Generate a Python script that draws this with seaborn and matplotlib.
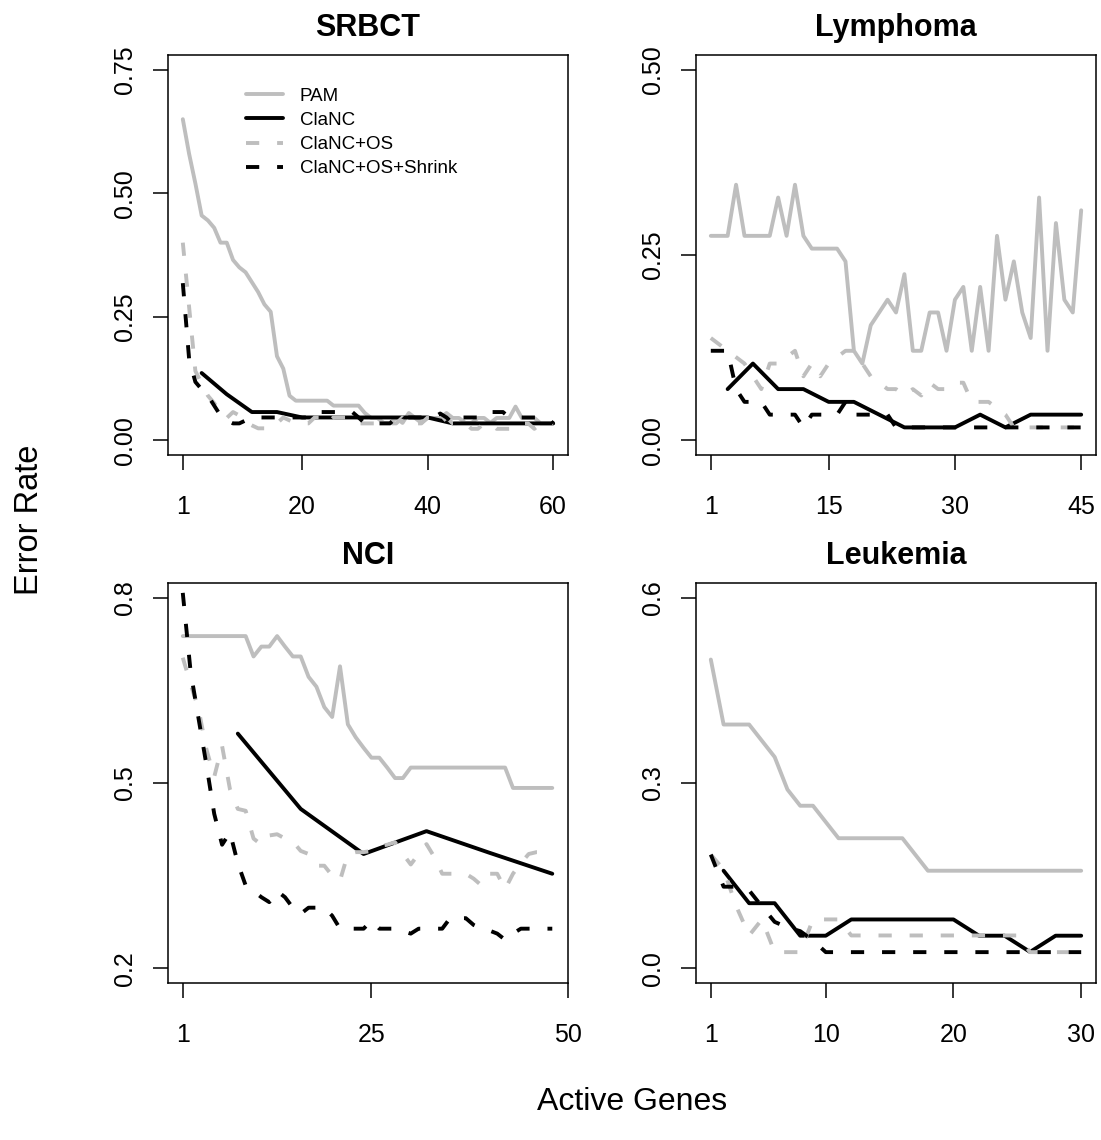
import numpy as np
import pandas as pd
import seaborn as sns
import matplotlib.pyplot as plt

# ---- data ----
# SRBCT
srbct_x = list(range(1, 61))
srbct_clanc_x = list(range(4, 61, 4))
srbct_pam = [0.65, 0.58, 0.52, 0.455, 0.445, 0.43, 0.40, 0.40, 0.365, 0.35,
             0.34, 0.32, 0.30, 0.275, 0.26, 0.17, 0.145, 0.09, 0.08, 0.08,
             0.08, 0.08, 0.08, 0.08, 0.07, 0.07, 0.07, 0.07, 0.07, 0.055,
             0.045, 0.045, 0.035, 0.035, 0.045, 0.035, 0.055, 0.045, 0.035, 0.045,
             0.045, 0.045, 0.055, 0.045, 0.045, 0.035, 0.035, 0.045, 0.045, 0.035,
             0.045, 0.045, 0.045, 0.068, 0.045, 0.045, 0.045, 0.034, 0.034, 0.034]
srbct_clanc = [0.136, 0.093, 0.057, 0.057, 0.046, 0.046, 0.046, 0.046, 0.046, 0.046,
               0.034, 0.034, 0.034, 0.034, 0.034]
srbct_os = [0.40, 0.27, 0.14, 0.115, 0.09, 0.075, 0.055, 0.045, 0.057, 0.05,
            0.037, 0.03, 0.024, 0.024, 0.024, 0.034, 0.046, 0.04, 0.034, 0.034,
            0.034, 0.046, 0.046, 0.034, 0.046, 0.046, 0.046, 0.046, 0.034, 0.034,
            0.034, 0.034, 0.034, 0.034, 0.034, 0.046, 0.034, 0.034, 0.034, 0.046,
            0.046, 0.034, 0.046, 0.034, 0.034, 0.034, 0.023, 0.023, 0.034, 0.034,
            0.023, 0.023, 0.023, 0.034, 0.034, 0.034, 0.023, 0.034, 0.034, 0.034]
srbct_shrink = [0.318, 0.165, 0.118, 0.103, 0.09, 0.07, 0.05, 0.04, 0.034, 0.034,
                0.04, 0.046, 0.046, 0.046, 0.046, 0.046, 0.046, 0.046, 0.046, 0.046,
                0.046, 0.057, 0.057, 0.057, 0.057, 0.057, 0.057, 0.057, 0.046, 0.034,
                0.034, 0.034, 0.034, 0.034, 0.046, 0.046, 0.046, 0.046, 0.046, 0.046,
                0.046, 0.054, 0.046, 0.034, 0.046, 0.046, 0.046, 0.046, 0.046, 0.057,
                0.057, 0.057, 0.046, 0.046, 0.046, 0.046, 0.046, 0.046, 0.046, 0.034]

# Lymphoma (errors out of 58)
lymph_x = list(range(1, 46))
lymph_clanc_x = list(range(3, 46, 3))
lymph_pam = [16, 16, 16, 20, 16, 16, 16, 16, 19, 16,
             20, 16, 15, 15, 15, 15, 14, 7, 6, 9,
             10, 11, 10, 13, 7, 7, 10, 10, 7, 11,
             12, 7, 12, 7, 16, 11, 14, 10, 8, 19,
             7, 17, 11, 10, 18]
lymph_clanc = [4, 6, 4, 4, 3, 3, 2, 1, 1, 1, 2, 1, 2, 2, 2]
lymph_os = [8, 7.5, 7, 6.5, 6, 5, 4, 6, 6, 6.5,
            7, 5, 6, 5, 6, 6.5, 7, 7, 6, 5,
            4.5, 4, 4, 3.5, 4, 3.5, 4.5, 4, 4, 4.5,
            4.5, 3, 3, 3, 2.5, 2, 1, 1, 1, 1,
            1, 1, 1, 1, 1]
lymph_shrink = [7, 7, 7, 4, 3, 3, 3, 2, 2, 2,
                2, 1, 2, 2, 2, 2, 3, 2, 2, 2,
                2, 2, 1, 1, 1, 1, 1, 1, 1, 1,
                1, 1, 1, 1, 1, 1, 1, 1, 1, 1,
                1, 1, 1, 1, 1]

# NCI
nci_x = list(range(1, 49))
nci_clanc_x = list(range(8, 49, 8))
nci_pam = [0.738] * 9 + [0.705, 0.721, 0.721, 0.738, 0.721, 0.705, 0.705, 0.672, 0.656, 0.623,
                         0.607, 0.689, 0.595, 0.574, 0.557, 0.541, 0.541, 0.525, 0.508, 0.508,
                         0.525] + [0.525] * 12 + [0.492] * 6
nci_clanc = [0.58, 0.458, 0.385, 0.422, 0.387, 0.353]
nci_os = [0.703, 0.66, 0.62, 0.555, 0.51, 0.56, 0.49, 0.458, 0.455, 0.41,
          0.40, 0.415, 0.417, 0.41, 0.405, 0.39, 0.385, 0.366, 0.366, 0.35,
          0.342, 0.385, 0.388, 0.388, 0.39, 0.398, 0.40, 0.404, 0.385, 0.368,
          0.385, 0.401, 0.38, 0.353, 0.353, 0.353, 0.353, 0.345, 0.334, 0.353,
          0.353, 0.328, 0.353, 0.37, 0.385, 0.388, 0.388, 0.388]
nci_shrink = [0.808, 0.68, 0.605, 0.53, 0.45, 0.40, 0.42, 0.37, 0.334, 0.325,
              0.315, 0.307, 0.325, 0.315, 0.298, 0.288, 0.298, 0.298, 0.298, 0.285,
              0.264, 0.264, 0.264, 0.264, 0.277, 0.264, 0.264, 0.264, 0.26, 0.256,
              0.264, 0.264, 0.264, 0.264, 0.281, 0.281, 0.281, 0.27, 0.264, 0.261,
              0.256, 0.246, 0.256, 0.264, 0.264, 0.264, 0.264, 0.264]

# Leukemia (errors out of 38)
leuk_x = list(range(1, 31))
leuk_clanc_x = list(range(2, 31, 2))
leuk_pam = [19, 15, 15, 15, 14, 13, 11, 10, 10, 9,
            8, 8, 8, 8, 8, 8, 7, 6, 6, 6,
            6, 6, 6, 6, 6, 6, 6, 6, 6, 6]
leuk_clanc = [6, 4, 4, 2, 2, 3, 3, 3, 3, 3, 2, 2, 1, 2, 2]
leuk_os = [0.184, 0.16, 0.10, 0.053, 0.079, 0.026, 0.026, 0.026, 0.079, 0.079,
           0.079] + [0.053] * 14 + [0.026] * 5
leuk_shrink = [0.184, 0.132, 0.132, 0.126, 0.10, 0.075, 0.066, 0.06, 0.045, 0.026] + [0.026] * 20

# ---- style ----
sns.set_style("ticks")
plt.rcParams['font.family'] = ['Liberation Sans', 'DejaVu Sans']
plt.rcParams['text.color'] = 'black'

GRAY = '#bebebe'
DASH = (0, (3.4, 4.6))
LW = 2.8

fig = plt.figure(figsize=(11.01, 11.4), dpi=100)
W, H = 1101, 1140


def panel(left, top, title, x, pam, clanc_x, clanc, os_, shrink, ylim, yticks, yfmt, xticks):
    ax = fig.add_axes([left / W, 1 - (top + 400) / H, 400 / W, 400 / H])
    sns.lineplot(x=x, y=pam, ax=ax, color=GRAY, lw=LW, errorbar=None, label='PAM')
    sns.lineplot(x=clanc_x, y=clanc, ax=ax, color='black', lw=LW, errorbar=None, label='ClaNC')
    sns.lineplot(x=x, y=os_, ax=ax, color=GRAY, lw=LW, linestyle=DASH, errorbar=None, label='ClaNC+OS')
    sns.lineplot(x=x, y=shrink, ax=ax, color='black', lw=LW, linestyle=DASH, errorbar=None,
                 label='ClaNC+OS+Shrink')
    xmax = x[-1]
    pad = 0.04 * (xmax - 1)
    ax.set_xlim(1 - pad, xmax + pad)
    yp = 0.04 * (ylim[1] - ylim[0])
    ax.set_ylim(ylim[0] - yp, ylim[1] + yp)
    ax.set_xticks(xticks)
    ax.set_yticks(yticks)
    ax.set_yticklabels([yfmt.format(v) for v in yticks], rotation=90, va='center')
    ax.set_xlabel('')
    ax.set_ylabel('')
    for s in ax.spines.values():
        s.set_visible(True)
        s.set_linewidth(1.1)
        s.set_color('black')
    ax.tick_params(axis='both', direction='out', length=11, width=1.1, labelsize=18,
                   colors='black', labelcolor='black')
    ax.tick_params(axis='x', pad=18)
    ax.tick_params(axis='y', pad=11)
    ax.text(0.5, 1 + 27 / 400, title, transform=ax.transAxes, ha='center', va='center',
            fontsize=22, fontweight='bold', color='black')
    ax.get_legend().remove()
    return ax


ax1 = panel(168, 55, 'SRBCT', srbct_x, srbct_pam, srbct_clanc_x, srbct_clanc, srbct_os, srbct_shrink,
            (0, 0.75), [0, 0.25, 0.5, 0.75], '{:.2f}', [1, 20, 40, 60])
panel(696, 55, 'Lymphoma', lymph_x, np.array(lymph_pam) / 58, lymph_clanc_x, np.array(lymph_clanc) / 58,
      np.array(lymph_os) / 58, np.array(lymph_shrink) / 58,
      (0, 0.5), [0, 0.25, 0.5], '{:.2f}', [1, 15, 30, 45])
panel(168, 583, 'NCI', nci_x, nci_pam, nci_clanc_x, nci_clanc, nci_os, nci_shrink,
      (0.2, 0.8), [0.2, 0.5, 0.8], '{:.1f}', [1, 25, 50])
panel(696, 583, 'Leukemia', leuk_x, np.array(leuk_pam) / 38, leuk_clanc_x, np.array(leuk_clanc) / 38,
      leuk_os, leuk_shrink, (0, 0.6), [0, 0.3, 0.6], '{:.1f}', xticks=[1, 10, 20, 30])

handles, labels = ax1.get_legend_handles_labels()
ax1.legend(handles, labels, loc='upper left', bbox_to_anchor=(70 / 400, 1 - 25 / 400), frameon=False,
           fontsize=13.5, handlelength=2.0, handletextpad=0.9, labelspacing=0.38, borderaxespad=0,
           labelcolor='black')

fig.text(30 / W, 1 - 520 / H, 'Error Rate', rotation=90, ha='center', va='center', fontsize=23.5)
fig.text(632 / W, 1 - 1102 / H, 'Active Genes', ha='center', va='center', fontsize=23)

fig.savefig('out.png', dpi=100)
